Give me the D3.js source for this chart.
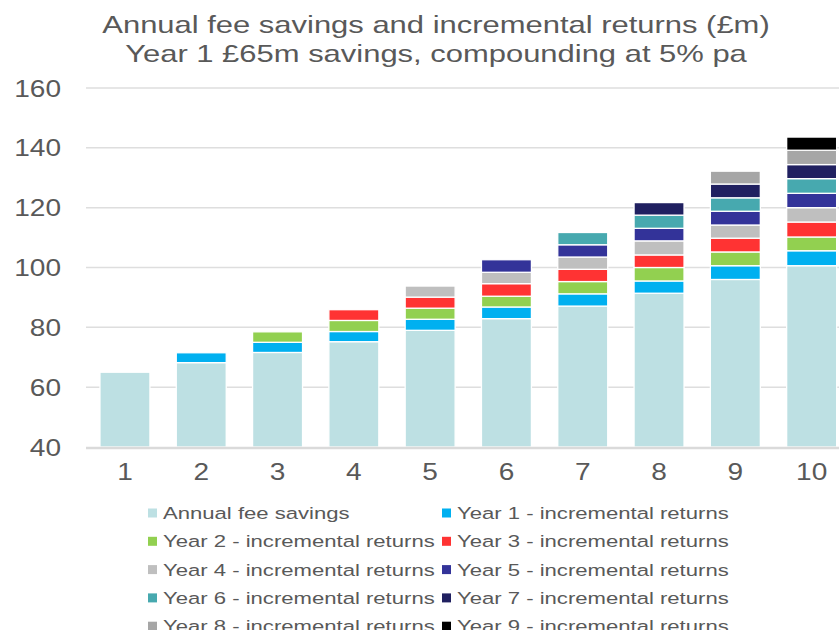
<!DOCTYPE html>
<html>
<head>
<meta charset="utf-8">
<script src="https://cdn.jsdelivr.net/npm/d3@7"></script>
<style>
  body { margin: 0; background: #fff; }
  text { font-family: "Liberation Sans", Arial, sans-serif; fill: #595959; }
</style>
</head>
<body>
<script>
// years on the x axis
const years = ['1','2','3','4','5','6','7','8','9','10'];

// Annual fee savings (£m)
const feeSavings = [65, 68.2, 71.6, 75.2, 79.0, 82.9, 87.1, 91.4, 96.0, 100.6];

// incremental returns, one list per starting year
const year1 = [0, 3.3, 3.4, 3.4, 3.7, 3.9, 4.1, 4.1, 4.6, 5.0];
const year2 = [0, 0, 3.5, 3.7, 3.7, 3.6, 4.1, 4.5, 4.6, 4.6];
const year3 = [0, 0, 0, 3.6, 3.7, 4.2, 4.1, 4.2, 4.6, 5.0];
const year4 = [0, 0, 0, 0, 3.7, 3.8, 4.1, 4.7, 4.4, 4.8];
const year5 = [0, 0, 0, 0, 0, 4.2, 4.1, 4.2, 4.6, 4.8];
const year6 = [0, 0, 0, 0, 0, 0, 4.1, 4.4, 4.5, 4.9];
const year7 = [0, 0, 0, 0, 0, 0, 0, 4.2, 4.6, 4.7];
const year8 = [0, 0, 0, 0, 0, 0, 0, 0, 4.3, 4.8];
const year9 = [0, 0, 0, 0, 0, 0, 0, 0, 0, 4.4];

const seriesNames = [
  'Annual fee savings',
  'Year 1 - incremental returns',
  'Year 2 - incremental returns',
  'Year 3 - incremental returns',
  'Year 4 - incremental returns',
  'Year 5 - incremental returns',
  'Year 6 - incremental returns',
  'Year 7 - incremental returns',
  'Year 8 - incremental returns',
  'Year 9 - incremental returns'
];
const seriesValues = [feeSavings, year1, year2, year3, year4, year5, year6, year7, year8, year9];
const colors = ['#bde0e3', '#00b0f0', '#92d050', '#ff3333', '#bfbfbf',
                '#333399', '#47a9af', '#202060', '#a6a6a6', '#000000'];

const yTicks = [40, 60, 80, 100, 120, 140, 160];

const width = 839, height = 630;

const svg = d3.select('body').append('svg')
  .attr('width', width)
  .attr('height', height);

// table for d3.stack
const table = years.map((y, i) => {
  const row = { year: y };
  seriesNames.forEach((n, j) => { row[n] = seriesValues[j][i]; });
  return row;
});

const x = d3.scaleBand()
  .domain(years)
  .range([86.8, 849.8])
  .paddingInner(0.345)
  .paddingOuter(0.1725);

const y = d3.scaleLinear()
  .domain([40, 160])
  .range([447, 88]);

// helper: the source text looks stretched sideways
const stretchText = (g, tx, ty, str, size, anchor, sx) => {
  g.append('text')
    .attr('transform', `translate(${tx},${ty}) scale(${sx},1)`)
    .attr('text-anchor', anchor)
    .style('font-size', size + 'px')
    .text(str);
};

// title
stretchText(svg, 436, 33, 'Annual fee savings and incremental returns (£m)', 24, 'middle', 1.29);
stretchText(svg, 436, 62, 'Year 1 £65m savings, compounding at 5% pa', 24, 'middle', 1.29);

// gridlines
svg.append('g')
  .selectAll('line')
  .data(yTicks.filter(d => d > 40))
  .enter()
  .append('line')
  .attr('x1', 86)
  .attr('x2', width)
  .attr('y1', d => y(d))
  .attr('y2', d => y(d))
  .style('stroke', '#dedede')
  .style('stroke-width', 1.5);

// y axis labels
const yAxis = svg.append('g');
yTicks.forEach(t => stretchText(yAxis, 61, y(t) + 8.5, t, 23, 'end', 1.22));

// stacked bars
const stack = d3.stack().keys(seriesNames);
const layers = stack(table);

svg.append('g')
  .selectAll('g')
  .data(layers)
  .enter()
  .append('g')
  .style('fill', (d, i) => colors[i])
  .selectAll('rect')
  .data(d => d.filter(p => p[1] - p[0] > 0))
  .enter()
  .append('rect')
  .attr('x', d => x(d.data.year))
  .attr('width', x.bandwidth())
  .attr('y', d => y(d[1]))
  .attr('height', d => y(Math.max(d[0], 40)) - y(d[1]))
  .style('stroke', '#fff')
  .style('stroke-width', 1.3);

// bottom axis line
svg.append('line')
  .attr('x1', 86)
  .attr('x2', width)
  .attr('y1', y(40) + 1)
  .attr('y2', y(40) + 1)
  .style('stroke', '#dadada')
  .style('stroke-width', 2.5);

// x labels
const xAxis = svg.append('g');
years.forEach(yr => stretchText(xAxis, x(yr) + x.bandwidth() / 2, 480, yr, 23, 'middle', 1.22));

// legend, two columns
const legend = svg.append('g');
seriesNames.forEach((n, i) => {
  const col = i % 2, row = Math.floor(i / 2);
  const lx = col === 0 ? 148 : 442;
  const ly = 513 + row * 28.3;
  legend.append('rect')
    .attr('x', lx)
    .attr('y', ly - 4.5)
    .attr('width', 9)
    .attr('height', 9)
    .style('fill', colors[i]);
  stretchText(legend, lx + 15, ly + 6, n, 17, 'start', 1.3);
});
</script>
</body>
</html>
